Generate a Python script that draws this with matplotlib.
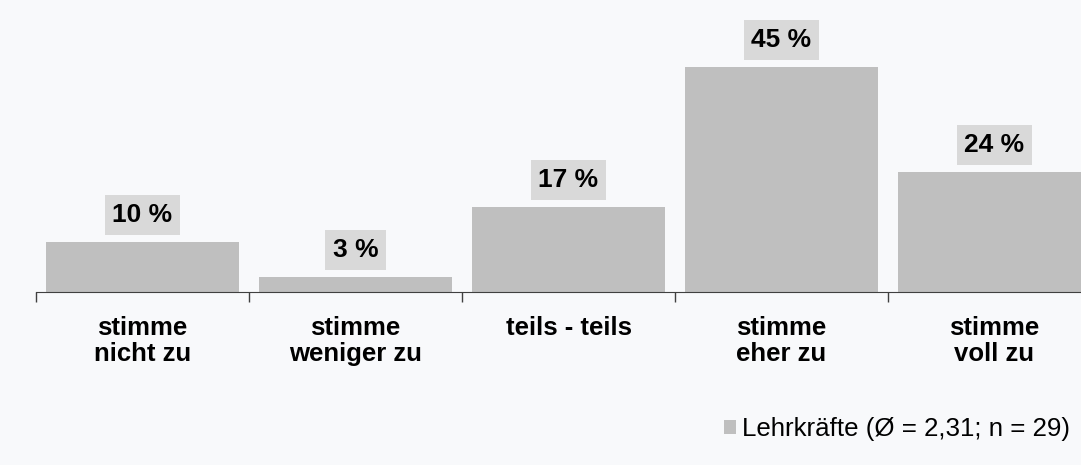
import numpy as np
import matplotlib.pyplot as plt

categories = ["stimme\nnicht zu", "stimme\nweniger zu", "teils - teils", "stimme\neher zu", "stimme\nvoll zu"]
values = [10, 3, 17, 45, 24]
labels = ["10 %", "3 %", "17 %", "45 %", "24 %"]
legend_label = "Lehrkräfte (Ø = 2,31; n = 29)"

plt.rcParams['font.family'] = ['Liberation Sans', 'DejaVu Sans']

bg = '#f8f9fb'
fig = plt.figure(figsize=(10.81, 4.65), dpi=100, facecolor=bg)
ax = fig.add_axes([36 / 1081, (465 - 292) / 465, 1065 / 1081, 250 / 465])
ax.set_facecolor(bg)

x = np.arange(len(values))
bars = ax.bar(x, values, width=0.906, color='#bfbfbf', label=legend_label, zorder=2)

for xi, v, lab in zip(x, values, labels):
    ax.annotate(lab, (xi, v), xytext=(0, 19.5), textcoords='offset points',
                ha='center', va='center', fontsize=19, fontweight='bold',
                bbox=dict(boxstyle='square,pad=0.3', fc='#d9d9d9', ec='none'))

ax.set_xlim(-0.5, 4.5)
ax.set_ylim(0, 50)
ax.set_xticks(x)
ax.set_xticklabels(categories, fontsize=18.5, fontweight='bold', linespacing=1.15)
ax.tick_params(axis='x', length=0, pad=17)
ax.set_xticks(np.arange(-0.5, 5, 1), minor=True)
ax.tick_params(axis='x', which='minor', length=7, color='#404040', width=1)
ax.set_yticks([])
for s in ['top', 'right', 'left']:
    ax.spines[s].set_visible(False)
ax.spines['bottom'].set_color('#404040')

fig.legend(handles=[bars], labels=[legend_label], loc='lower right',
           bbox_to_anchor=(1.0, 0.027), frameon=False, fontsize=18.6,
           handlelength=0.5, handleheight=0.5, handletextpad=0.2, borderaxespad=0.04)

fig.savefig('out.png', dpi=100, facecolor=bg)
